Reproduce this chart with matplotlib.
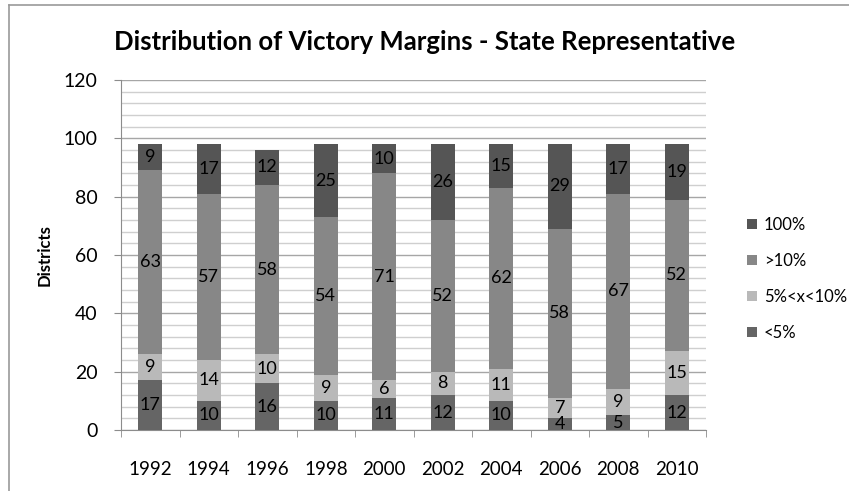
import matplotlib
matplotlib.use("Agg")
import matplotlib.pyplot as plt
from matplotlib.ticker import MultipleLocator, FixedLocator, NullFormatter
import numpy as np

plt.rcParams['font.family'] = ['Lato', 'DejaVu Sans']

years = ['1992', '1994', '1996', '1998', '2000', '2002', '2004', '2006', '2008', '2010']
lt5 = [17, 10, 16, 10, 11, 12, 10, 4, 5, 12]
mid = [9, 14, 10, 9, 6, 8, 11, 7, 9, 15]
gt10 = [63, 57, 58, 54, 71, 52, 62, 58, 67, 52]
full = [9, 17, 12, 25, 10, 26, 15, 29, 17, 19]

series = [('<5%', lt5, '#656565'), ('5%<x<10%', mid, '#b9b9b9'),
          ('>10%', gt10, '#878787'), ('100%', full, '#555555')]

fig = plt.figure(figsize=(8.49, 4.91), dpi=100)
ax = fig.add_axes([121/849, 1-430/491, (706-121)/849, (430-80)/491])

x = np.arange(len(years))
bottom = np.zeros(len(years))
handles = {}
for name, vals, col in series:
    v = np.array(vals, dtype=float)
    b = ax.bar(x, v, 0.41, bottom=bottom, color=col, zorder=3, label=name)
    handles[name] = b
    for xi, bi, vi in zip(x, bottom, v):
        ax.text(xi, bi + vi/2, str(int(vi)), ha='center', va='center',
                fontsize=13, color='black', zorder=4)
    bottom += v

ax.set_xlim(-0.5, len(years) - 0.5)
ax.set_ylim(0, 120)
ax.yaxis.set_major_locator(MultipleLocator(20))
ax.yaxis.set_minor_locator(MultipleLocator(4))
ax.yaxis.set_minor_formatter(NullFormatter())
ax.grid(axis='y', which='major', color='#a6a6a6', lw=1.0, zorder=0)
ax.grid(axis='y', which='minor', color='#cfcfcf', lw=1.0, zorder=0)
ax.tick_params(axis='y', which='minor', length=0)
ax.tick_params(axis='y', which='major', length=5, color='#8c8c8c', labelsize=14, pad=12)

ax.set_xticks(x)
ax.set_xticklabels(years, fontsize=13.5)
ax.tick_params(axis='x', which='major', length=0, pad=22)
ax.xaxis.set_minor_locator(FixedLocator(np.arange(-0.5, len(years), 1.0)))
ax.tick_params(axis='x', which='minor', length=5, color='#8c8c8c')

for s in ['top', 'right']:
    ax.spines[s].set_visible(False)
for s in ['left', 'bottom']:
    ax.spines[s].set_color('#8c8c8c')

ax.set_ylabel('Districts', fontsize=12, fontweight='bold', labelpad=8)

fig.text(0.5, 1-42/491, 'Distribution of Victory Margins - State Representative',
         ha='center', va='center', fontsize=18.5, fontweight='bold')

order = ['100%', '>10%', '5%<x<10%', '<5%']
leg = fig.legend([handles[n] for n in order], order, loc='center left',
                 bbox_to_anchor=(732/849, 1-279/491), frameon=False,
                 fontsize=12, handlelength=0.6, handleheight=0.6,
                 labelspacing=1.2, handletextpad=0.4)

# chart border (partially visible)
fig.add_artist(plt.Line2D([9/849, 9/849], [0, 1-5/491], color='#9a9a9a', lw=1.2))
fig.add_artist(plt.Line2D([9/849, 1], [1-5/491, 1-5/491], color='#9a9a9a', lw=1.2))

fig.savefig('out.png', dpi=100)
